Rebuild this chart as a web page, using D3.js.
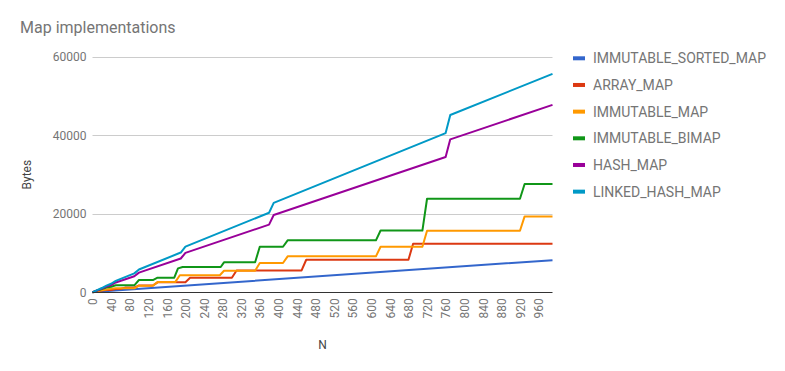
<!DOCTYPE html>
<html><head><meta charset="utf-8">
<script src="https://cdn.jsdelivr.net/npm/d3@7"></script>
<style>
body{margin:0;background:#fff}
text{font-family:Roboto, Arial, sans-serif}
</style>
</head><body>
<svg id="chart" width="785" height="371"></svg>
<script>
// ---- data ----
const title = "Map implementations";
const xTitle = "N";
const yTitle = "Bytes";
const seriesNames = ["IMMUTABLE_SORTED_MAP","ARRAY_MAP","IMMUTABLE_MAP","IMMUTABLE_BIMAP","HASH_MAP","LINKED_HASH_MAP"];
const seriesColors = ["#3366cc","#dc3912","#ff9900","#109618","#990099","#0099c6"];
const xTickValues = [0,40,80,120,160,200,240,280,320,360,400,440,480,520,560,600,640,680,720,760,800,840,880,920,960];
const yTickValues = [0,20000,40000,60000];
const xDomain = [0, 990];
const yDomain = [0, 60000];

// each series: [N, bytes] corner points
const immutableSortedMap = [[0,0],[10,150],[990,8200]];
const arrayMap = [[0,0],[10,260],[20,440],[30,600],[40,600],[50,840],[60,840],[70,1200],[90,1200],[100,1740],[130,1740],[140,2550],[200,2550],[210,3720],[300,3720],[310,5580],[450,5580],[460,8300],[680,8300],[690,12380],[990,12380]];
const immutableMap = [[0,0],[10,300],[20,520],[30,700],[40,880],[50,1020],[90,1020],[100,1700],[130,1700],[140,2600],[178,2600],[188,4350],[274,4350],[283,5500],[350,5500],[360,7460],[410,7460],[420,9170],[610,9170],[620,11620],[710,11620],[720,15700],[920,15700],[930,19350],[990,19350]];
const immutableBimap = [[0,0],[10,450],[20,800],[30,1200],[40,1400],[50,1780],[90,1780],[100,3130],[130,3130],[140,3720],[176,3720],[184,6100],[194,6450],[276,6450],[283,7640],[350,7640],[360,11620],[410,11620],[420,13250],[610,13250],[620,15750],[710,15750],[720,23850],[920,23850],[930,27600],[990,27600]];
const hashMap = [[0,0],[10,460],[20,930],[30,1460],[40,1860],[50,2510],[90,4110],[100,5020],[190,8620],[200,10050],[380,17250],[390,19700],[760,34500],[770,39000],[990,47800]];
const linkedHashMap = [[0,0],[10,540],[20,1090],[30,1700],[40,2180],[50,2910],[90,4830],[100,5820],[190,10140],[200,11650],[380,20290],[390,22820],[760,40600],[770,45200],[990,55700]];
const seriesData = [immutableSortedMap, arrayMap, immutableMap, immutableBimap, hashMap, linkedHashMap];

// ---- layout ----
const svg = d3.select("#chart");
const mLeft = 92.5, mRight = 552.5, mTop = 57, mBottom = 292.3;
const x = d3.scaleLinear().domain(xDomain).range([mLeft, mRight]);
const y = d3.scaleLinear().domain(yDomain).range([mBottom, mTop]);

svg.append("rect").attr("width",785).attr("height",371).attr("fill","#fff");

// title
svg.append("text").attr("x",20).attr("y",33).attr("fill","#757575")
  .style("font-size","16px").text(title);

// gridlines
svg.append("g").selectAll("line").data(yTickValues.filter(d=>d>0)).join("line")
  .attr("x1",mLeft).attr("x2",mRight)
  .attr("y1",d=>Math.round(y(d))+0.5).attr("y2",d=>Math.round(y(d))+0.5)
  .attr("stroke","#cccccc").attr("stroke-width",1);

// y axis labels
const yAxis = d3.axisLeft(y).tickValues(yTickValues).tickSize(0).tickPadding(6).tickFormat(d3.format("d"));
const gy = svg.append("g").attr("transform",`translate(${mLeft},0)`).call(yAxis);
gy.select(".domain").remove();
gy.selectAll("text").attr("fill","#757575").style("font-size","12px").style("font-family","Roboto, Arial, sans-serif");

// x axis labels
const xAxis = d3.axisBottom(x).tickValues(xTickValues).tickSize(0).tickFormat(d3.format("d"));
const gx = svg.append("g").attr("transform",`translate(0,${mBottom})`).call(xAxis);
gx.select(".domain").remove();
gx.selectAll("text").attr("fill","#757575").style("font-size","12px").style("font-family","Roboto, Arial, sans-serif")
  .attr("text-anchor","end").attr("transform","rotate(-90)")
  .attr("x",-6).attr("y",0).attr("dy","0.35em");

// axis titles
svg.append("text").attr("x",(mLeft+mRight)/2).attr("y",349).attr("text-anchor","middle")
  .attr("fill","#444").style("font-size","12px").text(xTitle);
svg.append("text").attr("transform",`translate(31,${(mTop+mBottom)/2}) rotate(-90)`).attr("text-anchor","middle")
  .attr("fill","#444").style("font-size","12px").text(yTitle);

// lines
const line = d3.line().x(d=>x(d[0])).y(d=>y(d[1]));
svg.append("g").selectAll("path").data(seriesData).join("path")
  .attr("d",line).attr("fill","none")
  .attr("stroke",(d,i)=>seriesColors[i]).attr("stroke-width",2)
  .attr("stroke-linejoin","round");

// baseline
svg.append("line").attr("x1",mLeft).attr("x2",mRight)
  .attr("y1",Math.round(y(0))+0.5).attr("y2",Math.round(y(0))+0.5)
  .attr("stroke","#333").attr("stroke-width",1);

// legend
const lg = svg.append("g").selectAll("g").data(seriesNames).join("g")
  .attr("transform",(d,i)=>`translate(573,${58.3+i*26.67})`);
lg.append("rect").attr("x",0).attr("y",-2).attr("width",12).attr("height",4)
  .attr("fill",(d,i)=>seriesColors[i]);
lg.append("text").attr("x",20).attr("y",0).attr("dy","0.35em")
  .attr("fill","#757575").style("font-size","14px").text(d=>d);
</script>
</body></html>
